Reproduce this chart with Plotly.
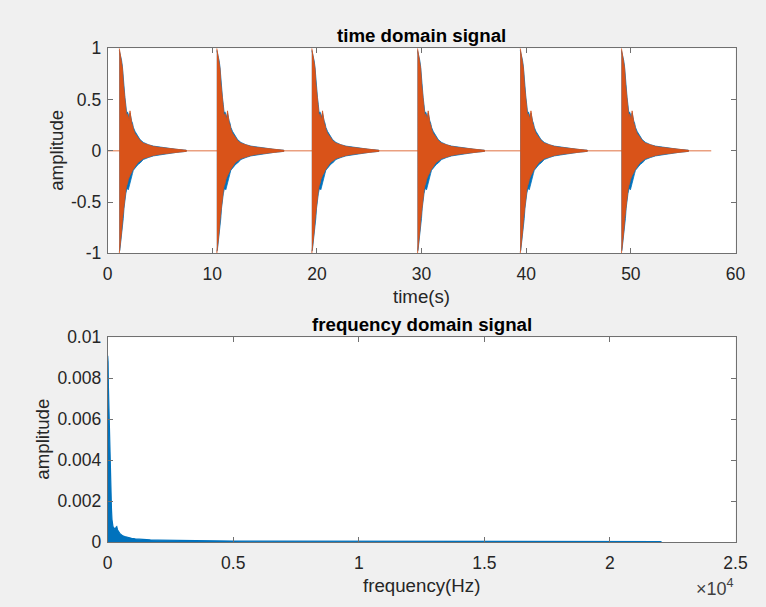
import plotly.graph_objects as go

# ---------------- data ----------------
# time-domain: six decaying bursts, two channels
BURST_ONSETS = [1.11, 10.43, 19.51, 29.61, 39.43, 49.10]   # seconds
SIGNAL_END = 57.68                                         # seconds
ENV_DT = [0.00, 0.05, 0.12, 0.22, 0.30, 0.38, 0.45, 0.54, 0.62, 0.70, 0.78, 0.86, 0.94, 1.02,
          1.10, 1.18, 1.26, 1.34, 1.50, 1.66, 1.82, 1.98, 2.30, 2.77, 3.25, 3.90, 4.70, 5.50, 6.40]
ORANGE_UP = [1.00, 0.97, 0.93, 0.89, 0.80, 0.66, 0.60, 0.50, 0.44, 0.33, 0.36, 0.31, 0.30, 0.39,
             0.30, 0.27, 0.25, 0.21, 0.17, 0.145, 0.12, 0.10, 0.074, 0.055, 0.042, 0.032, 0.022, 0.013, 0.005]
ORANGE_LO = [-1.00, -0.98, -0.90, -0.78, -0.67, -0.60, -0.51, -0.44, -0.38, -0.34, -0.32, -0.28, -0.26, -0.24,
             -0.22, -0.21, -0.19, -0.17, -0.15, -0.13, -0.11, -0.10, -0.075, -0.06, -0.045, -0.033, -0.023, -0.013, -0.005]
BLUE_UP = [0.98, 0.96, 0.92, 0.88, 0.82, 0.68, 0.62, 0.52, 0.45, 0.37, 0.38, 0.34, 0.33, 0.37,
           0.32, 0.29, 0.27, 0.23, 0.19, 0.16, 0.135, 0.11, 0.082, 0.06, 0.046, 0.035, 0.024, 0.014, 0.006]
BLUE_LO = [-0.98, -0.97, -0.92, -0.82, -0.75, -0.66, -0.56, -0.48, -0.42, -0.38, -0.37, -0.38, -0.33, -0.30,
           -0.27, -0.25, -0.22, -0.19, -0.17, -0.15, -0.13, -0.12, -0.085, -0.066, -0.05, -0.036, -0.025, -0.015, -0.006]

# frequency-domain magnitude
FREQ_HZ = [0, 15, 30, 45, 60, 75, 90, 105, 120, 135, 150, 170, 190, 210, 240, 270, 300, 330,
           360, 390, 430, 480, 540, 600, 680, 760, 850, 950, 1100, 1250, 1450, 1700, 2000,
           2400, 2900, 3500, 4200, 5000, 6000, 7000, 8000, 9500, 11000, 12500, 14000, 15500,
           17000, 18500, 20000, 21000, 22050]
FREQ_AMP = [0.0091, 0.0088, 0.0075, 0.0066, 0.0060, 0.0050, 0.0042, 0.0036, 0.0030, 0.0022,
            0.0016, 0.0011, 0.0009, 0.00075, 0.0007, 0.00065, 0.0006, 0.00072, 0.00075, 0.0006,
            0.0005, 0.00042, 0.00036, 0.0003, 0.00027, 0.00024, 0.0002, 0.00018, 0.00015,
            0.00013, 0.00011, 0.0001, 0.00009, 0.00008, 0.00007, 0.00006, 0.00005, 0.00005,
            0.00004, 0.00004, 0.00004, 0.00003, 0.00003, 0.00003, 0.00003, 0.00003, 0.00003,
            0.00003, 0.00003, 0.00002, 0.00002]

TOP_XTICKS = [0, 10, 20, 30, 40, 50, 60]
TOP_YTICKS = [-1, -0.5, 0, 0.5, 1]
TOP_YLABELS = ["-1", "-0.5", "0", "0.5", "1"]
BOT_XTICKS = [0, 5000, 10000, 15000, 20000, 25000]
BOT_XLABELS = ["0", "0.5", "1", "1.5", "2", "2.5"]
BOT_YTICKS = [0, 0.002, 0.004, 0.006, 0.008, 0.01]
BOT_YLABELS = ["0", "0.002", "0.004", "0.006", "0.008", "0.01"]

BLUE = "#0072BD"
ORANGE = "#D95319"
FONT = "Liberation Sans"
TXT = "#262626"
AXC = "#707070"

W, H = 766, 607
X0, X1 = 107.7, 735.5
TOP_Y0, TOP_Y1 = 48.3, 253.3
BOT_Y0, BOT_Y1 = 337.3, 542.0


def px_x(p):
    return p / W


def px_y(p):
    return 1 - p / H


fig = go.Figure()


def burst_poly(onset, up, lo):
    xs = [onset + d for d in ENV_DT] + [onset + d for d in reversed(ENV_DT)]
    ys = list(up) + list(reversed(lo))
    return xs, ys


for on in BURST_ONSETS:
    xs, ys = burst_poly(on, BLUE_UP, BLUE_LO)
    fig.add_trace(go.Scatter(x=xs, y=ys, mode="lines", fill="toself", fillcolor=BLUE,
                             line=dict(color=BLUE, width=0.8), hoverinfo="skip",
                             xaxis="x", yaxis="y"))
# zero baseline of the signal
fig.add_trace(go.Scatter(x=[0, SIGNAL_END], y=[0, 0], mode="lines",
                         line=dict(color=ORANGE, width=1.5), opacity=0.55,
                         hoverinfo="skip", xaxis="x", yaxis="y"))
for on in BURST_ONSETS:
    xs, ys = burst_poly(on, ORANGE_UP, ORANGE_LO)
    fig.add_trace(go.Scatter(x=xs, y=ys, mode="lines", fill="toself", fillcolor=ORANGE,
                             line=dict(color=ORANGE, width=0.8), hoverinfo="skip",
                             xaxis="x", yaxis="y"))

fig.add_trace(go.Scatter(x=FREQ_HZ, y=FREQ_AMP, mode="lines", fill="tozeroy",
                         fillcolor=BLUE, line=dict(color=BLUE, width=1.2),
                         hoverinfo="skip", xaxis="x2", yaxis="y2"))

axis_common = dict(showline=True, linecolor=AXC, linewidth=1, mirror="allticks",
                   ticks="inside", ticklen=5, tickcolor=AXC, tickwidth=1,
                   showgrid=False, zeroline=False, automargin=False,
                   tickfont=dict(family=FONT, size=17.5, color=TXT))
xstand = dict(ticklabelstandoff=5)
ystand = dict(ticklabelstandoff=2)

fig.update_layout(
    width=W, height=H,
    margin=dict(l=0, r=0, t=0, b=0, pad=0, autoexpand=False),
    paper_bgcolor="#f0f0f0", plot_bgcolor="white",
    showlegend=False,
    xaxis=dict(domain=[px_x(X0), px_x(X1)], range=[0, 60], tickmode="array",
               tickvals=TOP_XTICKS, ticktext=[str(v) for v in TOP_XTICKS],
               anchor="y", **axis_common, **xstand),
    yaxis=dict(domain=[px_y(TOP_Y1), px_y(TOP_Y0)], range=[-1, 1], tickmode="array",
               tickvals=TOP_YTICKS, ticktext=TOP_YLABELS, anchor="x", **axis_common, **ystand),
    xaxis2=dict(domain=[px_x(X0), px_x(X1)], range=[0, 25000], tickmode="array",
                tickvals=BOT_XTICKS, ticktext=BOT_XLABELS, anchor="y2", **axis_common, **xstand),
    yaxis2=dict(domain=[px_y(BOT_Y1), px_y(BOT_Y0)], range=[0, 0.01], tickmode="array",
                tickvals=BOT_YTICKS, ticktext=BOT_YLABELS, anchor="x2", **axis_common, **ystand),
)

cx = px_x((X0 + X1) / 2)
ann = [
    dict(text="<b>time domain signal</b>", x=cx, y=px_y(35), font=dict(size=18.7, color="#000000")),
    dict(text="<b>frequency domain signal</b>", x=cx, y=px_y(325), font=dict(size=18.7, color="#000000")),
    dict(text="time(s)", x=cx, y=px_y(296), font=dict(size=18.7, color=TXT)),
    dict(text="frequency(Hz)", x=cx, y=px_y(585), font=dict(size=18.7, color=TXT)),
    dict(text="amplitude", x=px_x(57), y=px_y((TOP_Y0 + TOP_Y1) / 2), textangle=-90,
         font=dict(size=18.7, color=TXT)),
    dict(text="amplitude", x=px_x(43), y=px_y((BOT_Y0 + BOT_Y1) / 2), textangle=-90,
         font=dict(size=18.7, color=TXT)),
    dict(text="×10<sup>4</sup>", x=px_x(715), y=px_y(587), font=dict(size=18, color="#404040")),
]
for a in ann:
    a.setdefault("xref", "paper")
    a.setdefault("yref", "paper")
    a["showarrow"] = False
    a["xanchor"] = "center"
    a["yanchor"] = "middle"
    a["font"]["family"] = FONT
fig.update_layout(annotations=ann)

fig.write_html("out.html")
